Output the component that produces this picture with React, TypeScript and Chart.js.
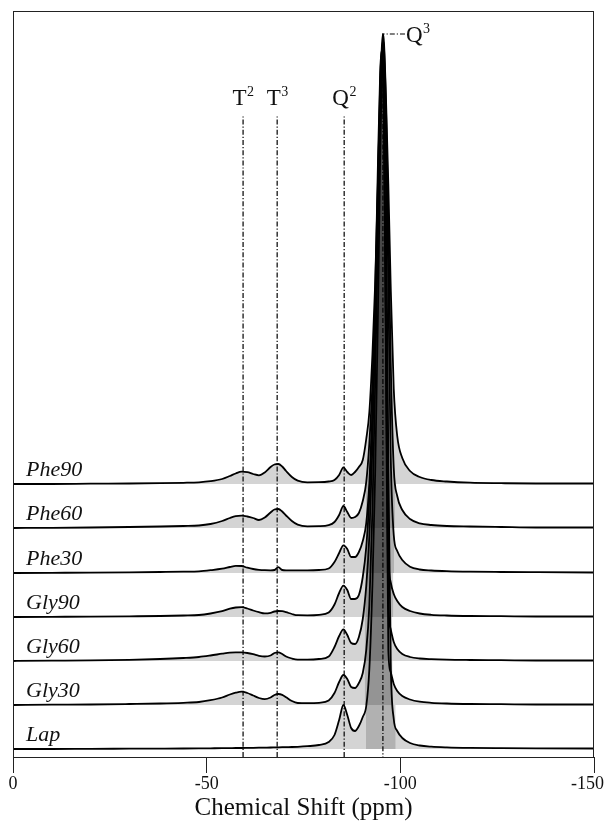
import { useEffect, useRef } from "react";
import { Chart, registerables } from "chart.js";

Chart.register(...registerables);

// chemical shift grid (ppm)
const ppm = [0, -10, -20, -30, -38, -44, -48, -51, -54, -56, -57.5, -59, -60.5, -62, -63.5, -65, -66.5, -67.5, -68.5, -69.5, -70.5, -72, -73.5, -76, -79, -81.5, -83, -84.2, -85.3, -86.3, -87.3, -88.3, -89.3, -90.3, -91.2, -92, -92.8, -93.5, -94.2, -94.8, -95.2, -95.5, -95.8, -96.3, -96.9, -97.5, -98.3, -99.2, -100.5, -102.5, -105, -108, -112, -118, -126, -135, -150];

// intensities (arbitrary units, above each trace's own baseline)
const phe90 = [0, 0, 0.3, 0.5, 0.8, 1.2, 1.7, 2.8, 5, 8, 10.5, 12.3, 11.8, 10, 8.7, 11.5, 17, 19.5, 20, 17.5, 13, 7, 3.3, 1.7, 1.8, 2.5, 4, 9, 16.7, 12, 9,
  12, 17, 24, 45, 72, 130, 200, 300, 390, 435, 450, 440, 385, 300, 200, 95, 48, 26, 13, 7, 4, 2.5, 1.3, 0.8, 0.5, 0.5];
const phe60 = [0, 0.2, 0.5, 1, 1.5, 2, 2.5, 4, 7, 10, 11.8, 12.3, 11.5, 10, 8, 10.5, 15.5, 18.5, 19, 16.5, 12.5, 7, 3.3, 1.7, 1.8, 2.8, 6, 13, 22, 16, 10,
  11, 15, 27, 46, 85, 145, 220, 320, 420, 470, 488, 478, 420, 310, 170, 60, 32, 18, 9, 4.7, 3, 2, 1.5, 1, 0.5, 0.5];
const phe30 = [0, 0.2, 0.4, 0.7, 1, 1.3, 1.7, 2.8, 4.3, 6, 7.2, 7, 5.3, 4, 3.2, 2.8, 2.7, 3, 5.8, 3, 2.7, 2.7, 2.7, 2.7, 3, 4.5, 11, 20, 27.7, 24, 16,
  16, 21, 32, 50, 90, 160, 240, 345, 450, 508, 528, 515, 440, 290, 120, 38, 22, 13, 6.3, 3.5, 2.5, 1.8, 1.3, 1, 0.8, 0.5];
const gly90 = [0, 0.2, 0.4, 0.7, 1, 1.5, 2, 3.5, 5.8, 8.3, 9.5, 9.8, 8.5, 6.5, 4.8, 3.6, 4.2, 5.5, 6, 5.8, 4.8, 3, 1.8, 1.7, 2.2, 4.5, 12.5, 24, 31.3, 27, 18,
  18, 22, 40, 70, 120, 205, 320, 450, 545, 567, 555, 500, 290, 65, 35, 23, 16, 10, 6, 3.5, 2.2, 1.5, 1, 0.8, 0.5, 0.5];
const gly60 = [0, 0.3, 0.6, 1.2, 2, 3, 4, 5.5, 7.3, 8.4, 8.7, 8.6, 8, 6.8, 5.2, 4.5, 5.5, 8, 8.7, 7, 4.5, 2.5, 1.4, 1.3, 2, 4.5, 14, 25, 31.7, 26, 18,
  17, 24, 42, 75, 125, 215, 330, 470, 580, 611, 600, 540, 320, 60, 32, 19, 12, 7, 4, 2.5, 1.8, 1.3, 1, 0.8, 0.5, 0.5];
const gly30 = [0, 0.3, 0.5, 1, 1.5, 2.2, 3, 4.8, 7.5, 10.5, 12.3, 13.3, 12, 9.5, 7, 5.8, 7.5, 10, 11, 10.2, 7.8, 4, 2, 1.8, 2.2, 4.5, 12, 23, 30, 26, 18,
  17, 22, 32, 55, 100, 195, 320, 470, 605, 650, 640, 570, 340, 55, 33, 21, 14, 9, 5.5, 3.3, 2.2, 1.5, 1, 0.8, 0.5, 0.5];
const lap = [0, 0, 0.2, 0.3, 0.4, 0.5, 0.6, 0.7, 0.8, 0.9, 1, 1, 1.1, 1.2, 1.3, 1.4, 1.5, 1.6, 1.7, 1.8, 1.9, 2, 2.2, 2.8, 4, 7, 14, 29, 44, 34, 21,
  18, 23, 32, 43, 80, 165, 275, 430, 590, 670, 689, 675, 560, 290, 90, 30, 18, 11, 6, 3.5, 2.3, 1.6, 1.1, 0.8, 0.6, 0.5];

const sampleNames = ["Phe90", "Phe60", "Phe30", "Gly90", "Gly60", "Gly30", "Lap"];
const sampleSeries = [phe90, phe60, phe30, gly90, gly60, gly30, lap];
const sampleOffsets = [273, 229, 184, 140, 96, 52, 8];

// Q3 core band of each upper spectrum, reaching down to the next baseline (ppm bounds)
const coreLeft = [-91.1, -91.2, -91.0, -90.8, -90.8, -91.1];
const coreRight = [-98.6, -98.4, -98.2, -97.9, -98.0, -98.8];

// reference lines
const markerPpm = [-59.4, -68.2, -85.5];
const markerMain = ["T", "T", "Q"];
const markerSup = ["2", "3", "2"];
const markerTop = 642;
const q3Ppm = -95.5;
const q3Top = 723;
const q3LabelPpm = -101.2;

const xTicks = [0, -50, -100, -150];

const SERIF = "'Liberation Serif', 'Times New Roman', serif";
const FILL = "rgba(0,0,0,0.17)";

const annotPlugin = {
  id: "annot",
  afterDraw(chart: any) {
    const { ctx, chartArea, scales, width } = chart;
    const xs = scales.x;
    const ys = scales.y;
    ctx.save();
    // frame
    const l = Math.round(chartArea.left) + 0.5;
    const r = Math.round(chartArea.right) - 0.5;
    const t = Math.round(chartArea.top) + 0.5;
    const b = Math.round(chartArea.bottom) + 0.5;
    ctx.strokeStyle = "#222";
    ctx.lineWidth = 1;
    ctx.strokeRect(l, t, r - l, b - t);

    // tick labels (kept inside the canvas)
    ctx.fillStyle = "#111";
    ctx.font = `18px ${SERIF}`;
    ctx.textAlign = "left";
    ctx.textBaseline = "middle";
    xTicks.forEach((v) => {
      const s = String(v);
      const w = ctx.measureText(s).width;
      let x0 = xs.getPixelForValue(v) - w / 2;
      if (x0 + w > width - 1) x0 = width - 1 - w;
      if (x0 < 1) x0 = 1;
      ctx.fillText(s, x0, chartArea.bottom + 27);
    });

    // sample labels
    ctx.textAlign = "left";
    ctx.textBaseline = "alphabetic";
    ctx.font = `italic 22px ${SERIF}`;
    sampleNames.forEach((n, i) => {
      ctx.fillText(n, chartArea.left + 13, ys.getPixelForValue(sampleOffsets[i]) - 8);
    });

    const drawSup = (main: string, sup: string, x: number, y: number, center: boolean) => {
      ctx.font = `23px ${SERIF}`;
      const wm = ctx.measureText(main).width;
      ctx.font = `14px ${SERIF}`;
      const ws = ctx.measureText(sup).width;
      const start = center ? x - (wm + ws) / 2 : x;
      ctx.font = `23px ${SERIF}`;
      ctx.fillText(main, start, y);
      ctx.font = `14px ${SERIF}`;
      ctx.fillText(sup, start + wm + 0.5, y - 9);
    };
    markerPpm.forEach((p, i) => {
      drawSup(markerMain[i], markerSup[i], xs.getPixelForValue(p), ys.getPixelForValue(markerTop) - 10, true);
    });
    drawSup("Q", "3", xs.getPixelForValue(q3LabelPpm) + 1, ys.getPixelForValue(q3Top) + 8, false);
    ctx.restore();
  },
};

export default function App() {
  const ref = useRef<HTMLCanvasElement | null>(null);
  useEffect(() => {
    if (!ref.current) return;
    const traceSets = sampleSeries.map((s, i) => ({
      label: sampleNames[i],
      data: ppm.map((p, k) => ({ x: p, y: s[k] + sampleOffsets[i] })),
      borderColor: "#000",
      borderWidth: 1.8,
      backgroundColor: FILL,
      fill: { value: sampleOffsets[i] },
      pointRadius: 0,
      tension: 0.4,
      cubicInterpolationMode: "monotone" as const,
      order: 1,
    }));
    const coreSets = coreLeft.map((cl, i) => ({
      label: "core" + i,
      data: [{ x: cl, y: sampleOffsets[i] }, { x: coreRight[i], y: sampleOffsets[i] }],
      borderColor: "rgba(0,0,0,0)",
      borderWidth: 0,
      backgroundColor: FILL,
      fill: { value: sampleOffsets[i + 1] },
      pointRadius: 0,
      tension: 0,
      order: 2,
    }));
    const dash = [5, 2, 1.2, 2];
    const markerSets = markerPpm.map((p) => ({
      label: "m" + p,
      data: [{ x: p, y: 0 }, { x: p, y: markerTop }],
      borderColor: "#000",
      borderWidth: 1.2,
      borderDash: dash,
      fill: false,
      pointRadius: 0,
      tension: 0,
      order: 0,
    }));
    const q3Set = {
      label: "q3",
      data: [{ x: q3LabelPpm, y: q3Top }, { x: q3Ppm, y: q3Top }, { x: q3Ppm, y: 0 }],
      borderColor: "#000",
      borderWidth: 1.2,
      borderDash: dash,
      fill: false,
      pointRadius: 0,
      tension: 0,
      order: 0,
    };
    const chart = new Chart(ref.current, {
      type: "line",
      data: { datasets: [...markerSets, q3Set, ...traceSets, ...coreSets] as any },
      plugins: [annotPlugin],
      options: {
        animation: false,
        responsive: false,
        layout: { padding: { left: 13, right: 11, top: 11, bottom: 0 }, autoPadding: false },
        plugins: { legend: { display: false }, tooltip: { enabled: false } },
        scales: {
          x: {
            type: "linear",
            min: -150,
            max: 0,
            reverse: true,
            afterBuildTicks: (s: any) => {
              s.ticks = xTicks.map((v) => ({ value: v }));
            },
            ticks: { display: false },
            grid: { drawOnChartArea: false, drawTicks: true, tickLength: 16, color: "#222", lineWidth: 1 },
            border: { display: true, color: "#222", width: 1 },
            title: {
              display: true,
              text: "Chemical Shift (ppm)",
              color: "#111",
              font: { family: SERIF, size: 25 },
              padding: { top: 0, bottom: 1 },
            },
            afterFit: (s: any) => {
              s.height = 67;
              s.paddingLeft = 0;
              s.paddingRight = 0;
            },
          },
          y: { type: "linear", display: false, min: 0, max: 746 },
        },
      } as any,
    });
    return () => chart.destroy();
  }, []);
  return (
    <div style={{ position: "fixed", left: 0, top: 0, width: 605, height: 824, background: "#fff" }}>
      <canvas ref={ref} width={605} height={824} style={{ display: "block" }} />
    </div>
  );
}
